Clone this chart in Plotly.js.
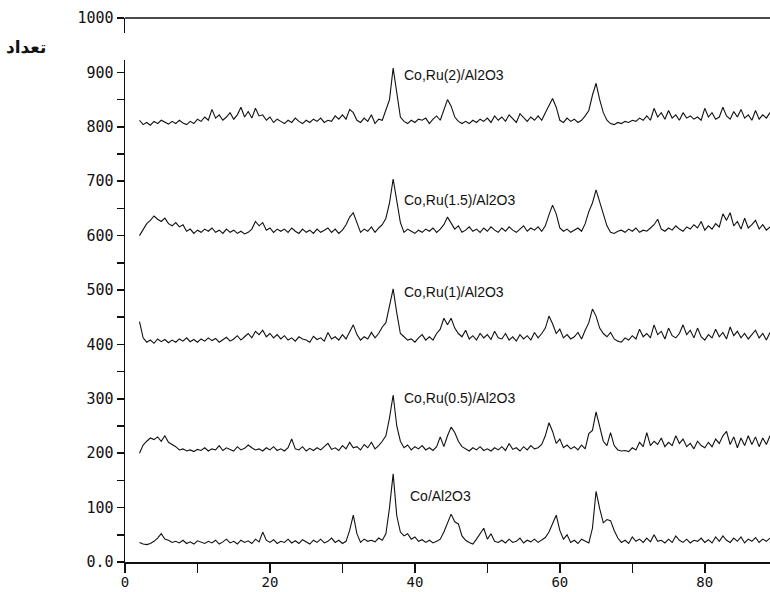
<!DOCTYPE html>
<html>
<head>
<meta charset="utf-8">
<script src="https://cdn.plot.ly/plotly-3.0.1.min.js"></script>
<style>html,body{margin:0;padding:0;background:#fff;}#chart{width:770px;height:592px;}</style>
</head>
<body>
<div id="chart"></div>
<script>
// 2-theta grid: starts at 2, step 0.5
const xStart = 2;
const xStep = 0.5;

const seriesNames = ["Co/Al2O3", "Co,Ru(0.5)/Al2O3", "Co,Ru(1)/Al2O3", "Co,Ru(1.5)/Al2O3", "Co,Ru(2)/Al2O3"];

const coAl = [
  36,33,32,34,38,44,52,42,40,36,
  38,35,40,34,37,33,39,36,34,38,
  35,40,33,37,42,35,38,33,40,36,
  39,34,42,37,55,40,36,41,34,38,
  36,42,35,39,34,41,37,33,40,36,
  42,35,38,44,36,40,34,38,58,86,
  52,36,42,38,40,37,44,40,52,100,
  162,85,55,48,52,42,46,38,41,36,
  40,35,38,42,55,70,88,74,70,48,
  40,36,33,42,52,62,42,52,38,36,
  40,35,42,36,38,44,35,40,37,42,
  36,40,45,55,72,86,58,42,50,36,
  40,34,42,38,35,62,130,98,72,78,
  76,58,44,36,40,34,46,38,42,36,
  44,37,50,38,40,35,42,36,48,40,
  36,42,35,40,38,44,36,41,35,46,
  38,48,40,36,44,38,46,35,42,38,
  45,36,42,38,44
];

const ru05 = [
  200,215,222,228,225,230,222,232,220,216,
  212,206,208,204,206,203,207,205,210,204,
  208,206,214,205,210,207,204,212,206,209,
  215,210,206,208,204,210,206,212,205,208,
  204,210,226,208,206,212,204,209,205,210,
  206,212,218,207,210,205,214,208,220,210,
  212,206,216,210,220,208,214,222,232,265,
  307,250,222,210,215,206,212,208,214,206,
  210,205,212,230,212,232,248,238,222,212,
  208,204,210,206,212,205,208,204,210,206,
  212,205,218,207,210,204,212,206,214,208,
  210,216,232,256,240,218,226,210,215,208,
  212,206,215,208,236,242,276,248,222,214,
  238,214,206,204,205,203,210,206,220,212,
  238,214,222,216,228,212,220,214,232,218,
  226,212,218,208,222,214,210,220,212,226,
  218,232,240,216,230,210,228,214,232,216,
  230,212,228,216,232
];

const ru1 = [
  442,412,404,408,402,410,405,409,403,408,
  404,410,406,412,405,409,404,410,406,412,
  407,411,404,409,413,406,410,416,408,414,
  420,412,424,418,426,414,420,412,418,410,
  416,408,412,406,414,410,408,404,415,409,
  412,406,422,410,414,408,418,410,424,436,
  418,408,414,410,422,412,420,432,440,470,
  502,458,420,414,408,410,404,412,418,408,
  414,408,420,428,448,436,448,430,420,414,
  426,410,416,408,420,412,418,409,424,412,
  410,420,408,414,406,418,410,416,408,422,
  412,420,430,452,438,420,428,412,418,410,
  414,422,410,426,440,465,452,430,420,414,
  422,410,406,404,412,408,416,410,428,414,
  420,412,436,418,424,410,430,416,412,420,
  436,418,426,412,430,414,408,418,412,428,
  414,422,410,432,416,424,412,420,410,418,
  426,412,420,408,422
];

const ru15 = [
  600,610,622,628,636,630,626,632,622,618,
  624,616,620,608,612,604,610,606,612,608,
  614,606,610,604,612,606,610,604,608,603,
  606,612,626,618,624,610,614,606,612,608,
  612,606,614,608,604,612,606,610,604,612,
  606,610,614,606,612,604,610,620,634,642,
  622,606,612,608,616,606,614,620,632,660,
  704,660,624,606,612,608,604,610,606,612,
  608,614,606,612,620,634,622,612,618,606,
  610,616,608,612,606,614,608,616,610,606,
  614,608,616,610,606,612,618,608,614,610,
  616,608,618,638,656,640,614,608,612,606,
  610,614,608,622,644,660,684,664,640,618,
  606,604,608,610,606,612,608,614,606,610,
  608,614,620,630,612,608,614,610,618,612,
  608,616,612,620,614,626,610,618,612,622,
  616,640,628,642,618,626,612,632,614,620,
  628,612,620,610,616
];

const ru2 = [
  812,804,808,803,810,806,812,808,805,810,
  806,812,807,804,810,806,814,810,818,812,
  832,816,822,812,818,826,814,822,836,818,
  828,816,834,820,822,812,818,808,814,810,
  806,812,808,816,810,806,812,808,814,810,
  816,808,812,810,820,814,822,814,832,826,
  812,808,816,810,822,806,814,812,830,850,
  908,858,818,810,806,812,808,814,812,816,
  806,814,820,812,832,850,838,818,810,806,
  810,806,812,808,814,810,816,808,820,812,
  818,810,822,814,808,824,816,810,818,812,
  820,812,826,840,852,836,812,808,816,810,
  814,808,812,820,830,858,880,850,826,812,
  806,804,808,806,810,808,812,810,816,812,
  820,812,834,818,826,814,830,816,822,812,
  826,816,820,814,818,812,834,818,826,814,
  818,836,820,814,828,818,832,816,822,812,
  830,814,822,816,826
];

// label anchor positions (x, y) for each series name
const labelX = [39.0, 38.2, 38.2, 38.2, 38.2];
const labelY = [121, 301, 496, 665, 895];

const yTickVals = [0,100,200,300,400,500,600,700,800,900,1000];
const yTickText = ["0.0","100","200","300","400","500","600","700","800","900","1000"];
const xTickVals = [0,20,40,60,80];
const xTickText = ["0","20","40","60","80"];

const allY = [coAl, ru05, ru1, ru15, ru2];

const traces = allY.map((ys, k) => ({
  type: "scatter",
  mode: "lines",
  name: seriesNames[k],
  x: ys.map((_, i) => xStart + xStep * i),
  y: ys,
  line: {color: "#111", width: 1.1},
  showlegend: false,
  hoverinfo: "skip"
}));

const annotations = seriesNames.map((n, k) => ({
  x: labelX[k], y: labelY[k], xref: "x", yref: "y",
  text: n, showarrow: false, xanchor: "left", yanchor: "middle",
  font: {family: "Liberation Sans Narrow, Arial Narrow, Liberation Sans, Arial, sans-serif", size: 14, color: "#111"}
}));
annotations.push({
  x: -121 / 645, y: (562 - 47) / 544, xref: "paper", yref: "paper",
  text: "<b>تعداد</b>", showarrow: false, xanchor: "left", yanchor: "middle",
  font: {family: "DejaVu Sans, sans-serif", size: 17, color: "#111"}
});

const layout = {
  width: 770, height: 592,
  margin: {l: 125, r: 0, t: 18, b: 30, pad: 0},
  paper_bgcolor: "#fff", plot_bgcolor: "#fff",
  font: {family: "DejaVu Sans Mono, monospace", size: 15, color: "#111"},
  xaxis: {
    range: [0, 89], showgrid: false, zeroline: false,
    showline: true, linecolor: "#111", linewidth: 1.5,
    ticks: "outside", ticklen: 9, tickwidth: 1.5, tickcolor: "#111",
    tickvals: xTickVals, ticktext: xTickText,
    minor: {tickvals: [10,30,50,70], ticks: "outside", ticklen: 9, tickwidth: 1.5, tickcolor: "#111"},
    tickfont: {family: "DejaVu Sans Mono, monospace", size: 14, color: "#111"},
    ticklabelstandoff: -2
  },
  yaxis: {
    range: [0, 1000], showgrid: false, zeroline: false,
    showline: true, linecolor: "#111", linewidth: 1.5,
    ticks: "outside", ticklen: 7, tickwidth: 1.5, tickcolor: "#111",
    tickvals: yTickVals, ticktext: yTickText,
    minor: {dtick: 50, ticks: "outside", ticklen: 7, tickwidth: 1.5, tickcolor: "#111"},
    tickfont: {family: "DejaVu Sans Mono, monospace", size: 15, color: "#111"}
  },
  shapes: [
    {type: "line", xref: "paper", yref: "paper", x0: 0, x1: 1, y0: 1, y1: 1,
     line: {color: "#111", width: 1.5}, layer: "above"},
    {type: "rect", xref: "paper", yref: "paper", x0: -14/645, x1: 4/645,
     y0: (562 - 60) / 544, y1: (562 - 33) / 544,
     fillcolor: "#fff", line: {width: 0}, layer: "above"}
  ],
  annotations: annotations
};

Plotly.newPlot("chart", traces, layout, {displayModeBar: false, staticPlot: true});
</script>
</body>
</html>
